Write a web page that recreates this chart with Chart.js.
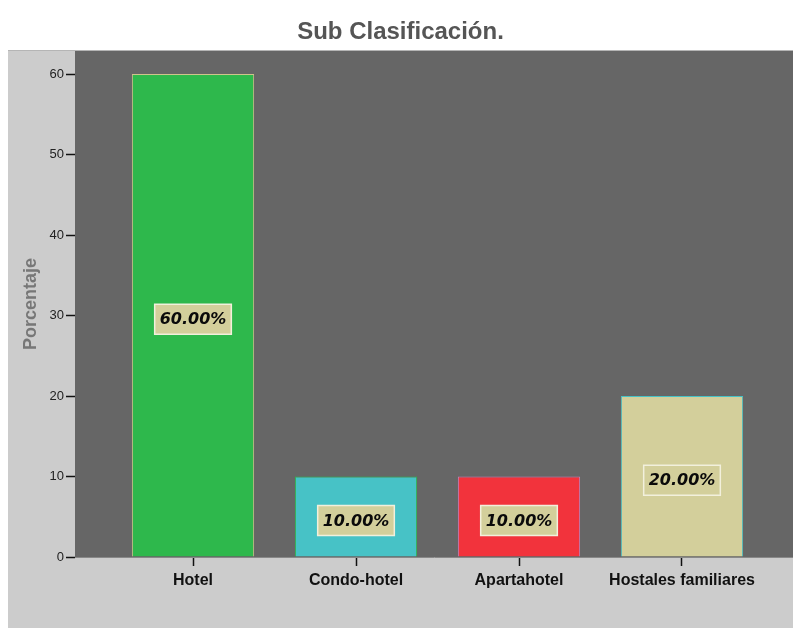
<!DOCTYPE html>
<html>
<head>
<meta charset="utf-8">
<script src="https://cdn.jsdelivr.net/npm/chart.js@4/dist/chart.umd.min.js"></script>
<style>
  html, body { margin: 0; padding: 0; background: #fff; }
  canvas { display: block; }
</style>
</head>
<body>
<canvas id="chart" width="793" height="628"></canvas>
<script>
// data
const categories  = ["Hotel", "Condo-hotel", "Apartahotel", "Hostales familiares"];
const percentages = [60, 10, 10, 20];
const barColors   = ["#2eb84c", "#47c2c6", "#f2333c", "#d3cf9b"];
const edgeColors  = ["#cfc48c", "#2eb84c", "#c77fb8", "#47c2c6"];
const yTicks      = [0, 10, 20, 30, 40, 50, 60];

const FONT = "'Liberation Sans', Arial, sans-serif";

// grey panel + dark plot area
const backdrop = {
  id: "backdrop",
  beforeDraw(chart) {
    const { ctx, chartArea } = chart;
    ctx.save();
    ctx.fillStyle = "#cccccc";
    ctx.fillRect(8, chartArea.top, chart.width - 8, chart.height - chartArea.top);
    ctx.fillStyle = "#666666";
    ctx.fillRect(chartArea.left, chartArea.top, chartArea.right - chartArea.left, chartArea.bottom - chartArea.top);
    ctx.fillStyle = "#b5b5b5";
    ctx.fillRect(8, chartArea.top - 1, chart.width - 8, 1);
    ctx.restore();
  }
};

// percentage boxes in the middle of each bar
const valueBoxes = {
  id: "valueBoxes",
  afterDatasetsDraw(chart) {
    const { ctx } = chart;
    const meta = chart.getDatasetMeta(0);
    ctx.save();
    ctx.font = "italic bold 16px 'DejaVu Sans', Verdana, sans-serif";
    ctx.textAlign = "center";
    ctx.textBaseline = "middle";
    meta.data.forEach((bar, i) => {
      const text = percentages[i].toFixed(2) + "%";
      const w = ctx.measureText(text).width + 10;
      const h = 30;
      const cx = bar.x;
      const cy = (bar.y + bar.base) / 2 + 4;
      ctx.fillStyle = "#d3cf9b";
      ctx.fillRect(cx - w / 2, cy - h / 2, w, h);
      ctx.strokeStyle = "#f2f0dc";
      ctx.lineWidth = 1.5;
      ctx.strokeRect(cx - w / 2, cy - h / 2, w, h);
      ctx.fillStyle = "#0a0a0a";
      ctx.fillText(text, cx, cy + 1);
    });
    ctx.restore();
  }
};

new Chart(document.getElementById("chart"), {
  type: "bar",
  data: {
    datasets: [{
      data: percentages.map((v, i) => ({ x: i, y: v })),
      backgroundColor: barColors,
      borderColor: edgeColors,
      borderWidth: 1,
      barPercentage: 0.75,
      categoryPercentage: 1
    }]
  },
  options: {
    responsive: false,
    animation: false,
    layout: { padding: { left: 8, right: 0, top: 0, bottom: 0 } },
    plugins: {
      legend: { display: false },
      tooltip: { enabled: false },
      title: {
        display: true,
        text: "Sub Clasificación.",
        color: "#555555",
        font: { family: FONT, size: 24, weight: "bold", lineHeight: 1.2 },
        padding: { top: 18, bottom: 4.2 }
      }
    },
    scales: {
      x: {
        type: "linear",
        offset: false,
        min: -0.724,
        max: 3.681,
        afterBuildTicks: s => { s.ticks = categories.map((c, i) => ({ value: i })); },
        afterFit: s => { s.height = 71; },
        ticks: {
          callback: v => categories[v],
          color: "#111",
          font: { family: FONT, size: 16, weight: "bold" },
          padding: 5,
          maxRotation: 0,
          autoSkip: false
        },
        grid: { offset: false, drawOnChartArea: false, drawTicks: true, tickLength: 9, tickColor: "#111", tickWidth: 1.5 },
        border: { color: "#888888", width: 1 }
      },
      y: {
        min: 0,
        max: 62.86,
        afterBuildTicks: s => { s.ticks = yTicks.map(v => ({ value: v })); },
        afterFit: s => { s.width = 67; },
        ticks: {
          color: "#222",
          font: { family: FONT, size: 13 },
          padding: 2,
          includeBounds: false
        },
        title: {
          display: true,
          text: "Porcentaje",
          color: "#777777",
          font: { family: FONT, size: 18, weight: "bold" },
          padding: { top: 12, bottom: 0 }
        },
        grid: { drawOnChartArea: false, drawTicks: true, tickLength: 9, tickColor: "#111", tickWidth: 1.5 },
        border: { display: false }
      }
    }
  },
  plugins: [backdrop, valueBoxes]
});
</script>
</body>
</html>
